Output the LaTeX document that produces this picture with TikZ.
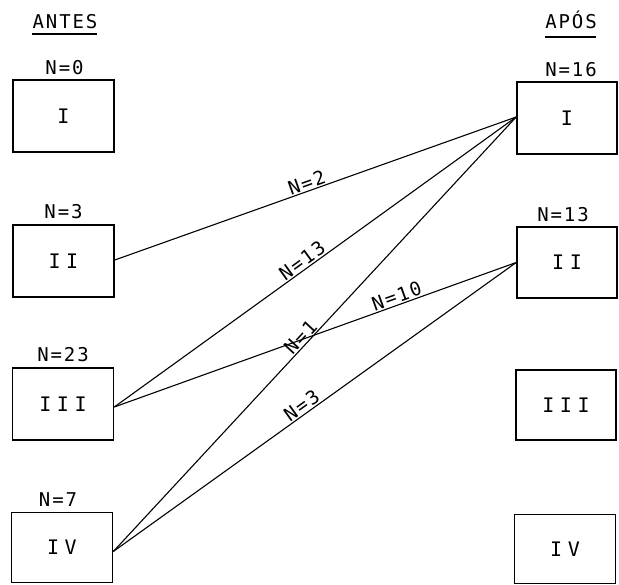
\documentclass[tikz,border=0pt]{standalone}
\usepackage{fontspec}
\setmainfont{DejaVu Sans Mono}[LetterSpace=10]
\newfontfamily\romfont{DejaVu Sans Mono}
\newcommand{\rsp}{\hskip5.5pt}
\begin{document}
\begin{tikzpicture}[x=1pt,y=-1pt,
  box/.style={draw,line width=1.6pt,minimum width=101pt,minimum height=72pt,inner sep=0pt,
    font=\romfont\fontsize{20}{20}\selectfont},
  cnt/.style={font=\fontsize{19}{19}\selectfont,inner sep=0pt,anchor=base},
  hdr/.style={font=\fontsize{19}{19}\selectfont,inner sep=0pt,anchor=base},
  uline/.style={line width=1.3pt},
  link/.style={line width=1.1pt},
  lab/.style={sloped,above,inner sep=1pt,font=\fontsize{19}{19}\selectfont}]
\useasboundingbox (0,0) rectangle (619,585);

% headers
\node[hdr] (antes) at (65,29) {ANTES};
\node[hdr] (apos) at (571,29) {APÓS};
\draw[uline] ([yshift=-5pt]antes.base west) -- ([yshift=-5pt,xshift=-1pt]antes.base east);
\draw[uline] ([yshift=-8pt]apos.base west) -- ([yshift=-8pt,xshift=-1pt]apos.base east);

% left boxes
\node[box] (l1) at (63.5,116) {I};
\node[box] (l2) at (63.5,261) {I\rsp I};
\node[box] (l3) at (63,404) {I\rsp I\rsp I};
\node[box,minimum height=70pt] (l4) at (62,547.5) {I\rsp V};

% right boxes
\node[box,minimum width=100pt] (r1) at (567,118) {I};
\node[box,minimum width=100pt,minimum height=71pt] (r2) at (567,262.5) {I\rsp I};
\node[box,minimum width=100pt,minimum height=70pt] (r3) at (566,405) {I\rsp I\rsp I};
\node[box,minimum width=101pt,minimum height=69pt] (r4) at (565,549) {I\rsp V};

% counts
\node[cnt] (n1) at ([xshift=1pt,yshift=5pt]l1.north) {N=0};
\node[cnt] (n2) at ([yshift=6pt]l2.north) {N=3};
\node[cnt] (n3) at ([yshift=6pt]l3.north) {N=23};
\node[cnt] (n4) at ([xshift=-4pt,yshift=5pt]l4.north) {N=7};
\node[cnt] (m1) at ([xshift=4pt,yshift=5pt]r1.north) {N=16};
\node[cnt] (m2) at ([xshift=-4pt,yshift=5pt]r2.north) {N=13};

% connectors
\coordinate (e2) at ([yshift=1pt]l2.east);
\coordinate (e3) at ([yshift=-3pt]l3.east);
\coordinate (e4) at ([yshift=-4pt]l4.east);
\coordinate (w1) at ([yshift=1pt]r1.west);
\coordinate (w2) at (r2.west);
\draw[link] (e2) -- node[lab,pos=0.485] {N=2} (w1);
\draw[link] (e3) -- node[lab,pos=0.48] {N=13} (w1);
\draw[link] (e3) -- node[lab,pos=0.71] {N=10} (w2);
\draw[link] (e4) -- node[lab,pos=0.48] {N=1} (w1);
\draw[link] (e4) -- node[lab,pos=0.48] {N=3} (w2);
\end{tikzpicture}
\end{document}
